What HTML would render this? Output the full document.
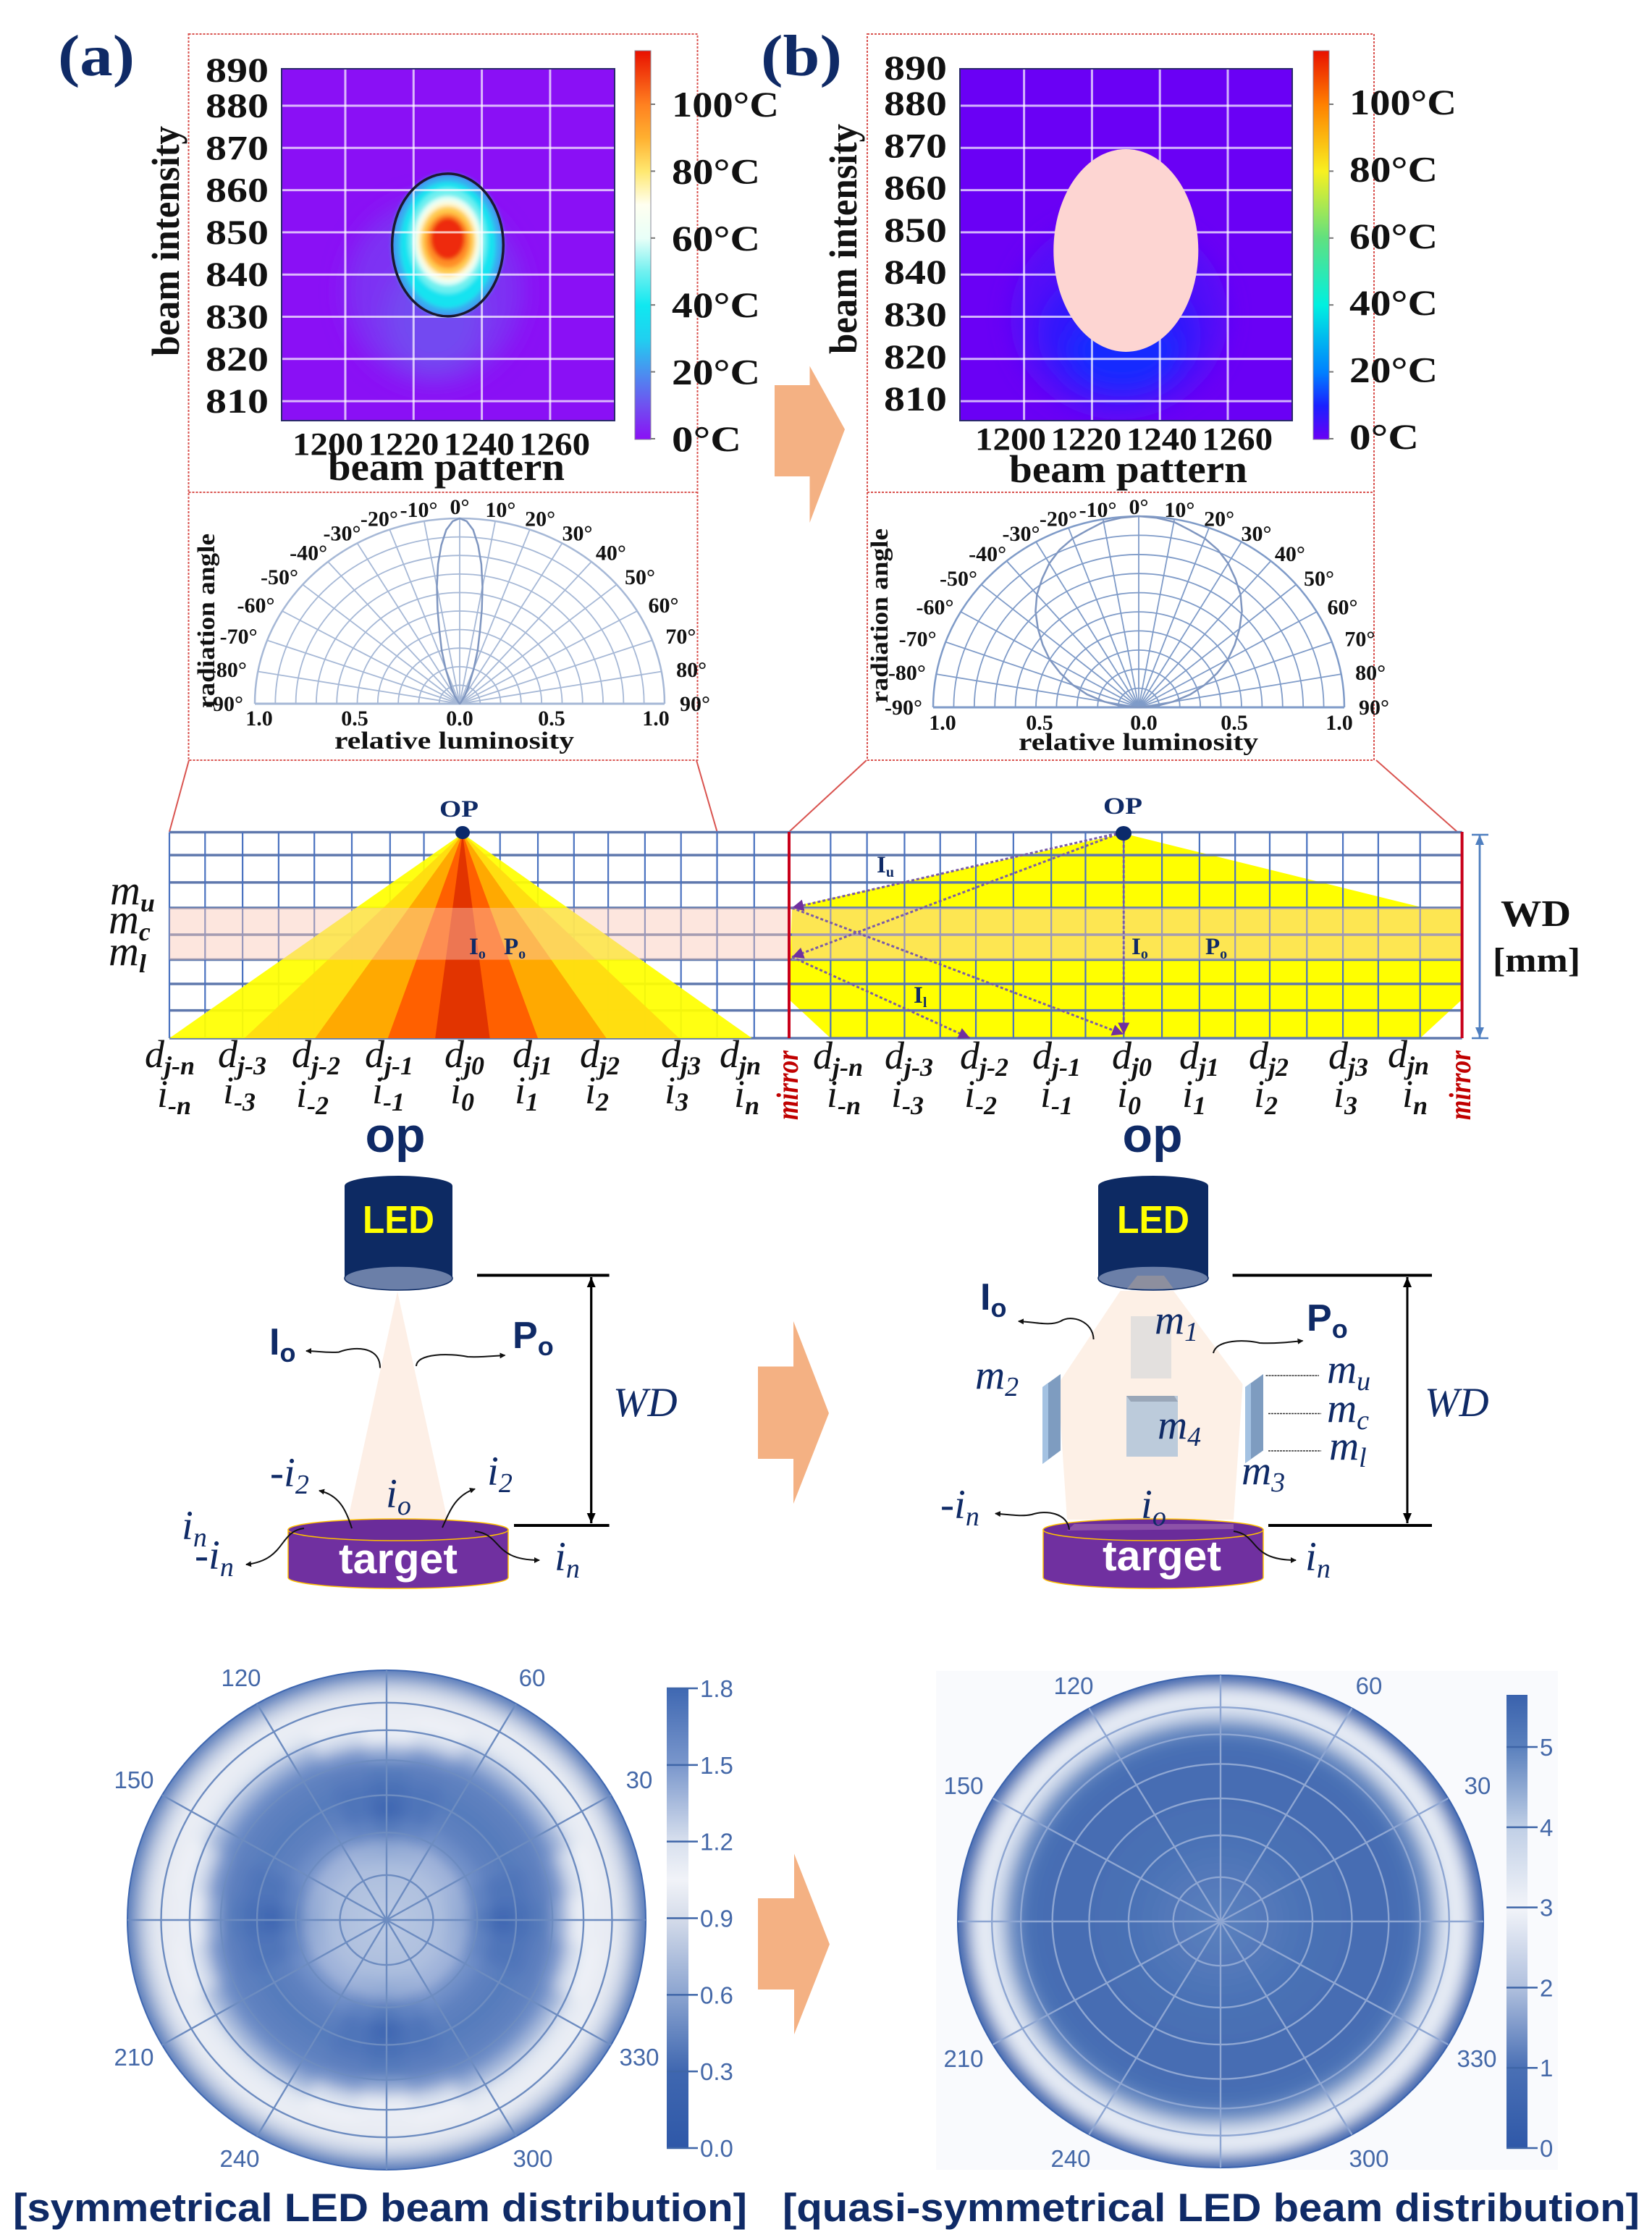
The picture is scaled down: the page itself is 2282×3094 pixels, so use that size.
<!DOCTYPE html>
<html>
<head>
<meta charset="utf-8">
<title>LED beam distribution comparison</title>
<style>
html,body{margin:0;padding:0;background:#fff;}
svg{display:block;}
.sb{font-family:"Liberation Serif",serif;font-weight:bold;fill:#111;}
.sym{font-family:"Liberation Serif",serif;font-style:italic;font-size:54px;fill:#111;}
.sub{font-size:36px;font-weight:bold;}
.nav{font-family:"Liberation Serif",serif;font-style:italic;font-size:57px;fill:#0f2a66;}
.nsub{font-size:38px;}
.sans{font-family:"Liberation Sans",sans-serif;font-weight:bold;}
.ioa{font-family:"Liberation Serif",serif;font-weight:bold;font-size:33px;fill:#0f2a66;}
.iob{font-size:20px;}
.mir{font-family:"Liberation Serif",serif;font-weight:bold;font-style:italic;font-size:42px;fill:#c00000;}
.cur{fill:none;stroke:#111;stroke-width:2;marker-end:url(#arrow-black);}
.pl{font-family:"Liberation Sans",sans-serif;font-size:33px;fill:#4468a8;}
</style>
</head>
<body>
<svg id="fig" xmlns="http://www.w3.org/2000/svg" width="2282" height="3094" viewBox="0 0 2282 3094">
<defs>
<filter id="blur5" x="-10%" y="-10%" width="120%" height="120%"><feGaussianBlur stdDeviation="9"/></filter>
<filter id="blur3" x="-30%" y="-30%" width="160%" height="160%"><feGaussianBlur stdDeviation="3"/></filter>
<filter id="blur14" x="-40%" y="-40%" width="180%" height="180%"><feGaussianBlur stdDeviation="16"/></filter>
<clipPath id="clip-heat-a"><rect x="389" y="95" width="460" height="486"/></clipPath>
<clipPath id="clip-heat-b"><rect x="1326" y="95" width="459" height="486"/></clipPath>
<clipPath id="clip-polar-a"><ellipse cx="534" cy="2652" rx="358" ry="345"/></clipPath>
<clipPath id="clip-polar-b"><ellipse cx="1686" cy="2654" rx="363" ry="340"/></clipPath>
<marker id="arrow-black" markerWidth="9" markerHeight="9" refX="7" refY="4" orient="auto" markerUnits="userSpaceOnUse"><path d="M0 0L8 4L0 8Z" fill="#111"/></marker>
<marker id="arrow-purple" markerWidth="20" markerHeight="20" refX="16" refY="8" orient="auto" markerUnits="userSpaceOnUse"><path d="M0 0L16 8L0 16Z" fill="#7030a0"/></marker>
<marker id="arrow-blue" markerWidth="18" markerHeight="18" refX="14" refY="6" orient="auto" markerUnits="userSpaceOnUse"><path d="M0 0L14 6L0 12Z" fill="#4f7fc0"/></marker>
<marker id="arrow-wd" markerWidth="18" markerHeight="18" refX="14" refY="6" orient="auto" markerUnits="userSpaceOnUse"><path d="M0 0L14 6L0 12Z" fill="#000"/></marker>
</defs>

<rect width="2282" height="3094" fill="#fff"/>

<text class="sb" x="80" y="104" font-size="80" style="fill:#0f2a66" textLength="106" lengthAdjust="spacingAndGlyphs">(a)</text>
<text class="sb" x="1051" y="104" font-size="80" style="fill:#0f2a66" textLength="112" lengthAdjust="spacingAndGlyphs">(b)</text>

<g fill="none" stroke="#d9534f" stroke-width="2">
<rect x="260.5" y="47" width="703" height="1003" stroke-dasharray="3 2"/>
<line x1="260.5" y1="680" x2="963.5" y2="680" stroke-dasharray="3 2"/>
<rect x="1198" y="47" width="700" height="1003" stroke-dasharray="3 2"/>
<line x1="1198" y1="680" x2="1898" y2="680" stroke-dasharray="3 2"/>
<path d="M261 1050L234 1149M962 1050L990.6 1149M1197 1050L1090 1149M1901 1050L2013 1149"/>
</g>

<g id="heat-a" clip-path="url(#clip-heat-a)"></g>
<g id="heat-b" clip-path="url(#clip-heat-b)"></g>
<g id="heat-axes"></g>

<text class="sb" x="453" y="663" font-size="54" textLength="327" lengthAdjust="spacingAndGlyphs">beam pattern</text>
<text class="sb" x="1394" y="666" font-size="54" textLength="329" lengthAdjust="spacingAndGlyphs">beam pattern</text>
<text class="sb" transform="translate(247,492) rotate(-90)" font-size="54" textLength="318" lengthAdjust="spacingAndGlyphs">beam intensity</text>
<text class="sb" transform="translate(1183,489) rotate(-90)" font-size="54" textLength="318" lengthAdjust="spacingAndGlyphs">beam intensity</text>

<g id="angle-charts"></g>
<text class="sb" x="462" y="1034" font-size="34" textLength="331" lengthAdjust="spacingAndGlyphs">relative luminosity</text>
<text class="sb" x="1407" y="1036" font-size="34" textLength="331" lengthAdjust="spacingAndGlyphs">relative luminosity</text>
<text class="sb" transform="translate(296,978) rotate(-90)" font-size="34" textLength="241" lengthAdjust="spacingAndGlyphs">radiation angle</text>
<text class="sb" transform="translate(1226,971) rotate(-90)" font-size="34" textLength="241" lengthAdjust="spacingAndGlyphs">radiation angle</text>

<g id="beam-grid"></g>

<text class="ioa" x="607" y="1128" textLength="54" lengthAdjust="spacingAndGlyphs">OP</text>
<text class="ioa" x="1524" y="1124" textLength="54" lengthAdjust="spacingAndGlyphs">OP</text>
<text class="ioa" x="648" y="1318">I<tspan class="iob" dy="6">o</tspan></text>
<text class="ioa" x="696" y="1318">P<tspan class="iob" dy="6">o</tspan></text>
<text class="ioa" x="1563" y="1318">I<tspan class="iob" dy="6">o</tspan></text>
<text class="ioa" x="1665" y="1318">P<tspan class="iob" dy="6">o</tspan></text>
<text class="ioa" x="1211" y="1205">I<tspan class="iob" dy="6">u</tspan></text>
<text class="ioa" x="1262" y="1385">I<tspan class="iob" dy="6">l</tspan></text>

<g>
<text class="sym" x="152" y="1249" style="font-size:58px">m<tspan class="sub" dy="10">u</tspan></text>
<text class="sym" x="150" y="1289" style="font-size:58px">m<tspan class="sub" dy="10">c</tspan></text>
<text class="sym" x="150" y="1333" style="font-size:58px">m<tspan class="sub" dy="10">l</tspan></text>
</g>

<g>
<text class="sym" x="200" y="1474">d<tspan class="sub" dy="10">j-n</tspan></text>
<text class="sym" x="301" y="1474">d<tspan class="sub" dy="10">j-3</tspan></text>
<text class="sym" x="403" y="1474">d<tspan class="sub" dy="10">j-2</tspan></text>
<text class="sym" x="504" y="1474">d<tspan class="sub" dy="10">j-1</tspan></text>
<text class="sym" x="614" y="1474">d<tspan class="sub" dy="10">j0</tspan></text>
<text class="sym" x="708" y="1474">d<tspan class="sub" dy="10">j1</tspan></text>
<text class="sym" x="801" y="1474">d<tspan class="sub" dy="10">j2</tspan></text>
<text class="sym" x="913" y="1474">d<tspan class="sub" dy="10">j3</tspan></text>
<text class="sym" x="994" y="1474">d<tspan class="sub" dy="10">jn</tspan></text>
<text class="sym" x="217" y="1529">i<tspan class="sub" dy="10">-n</tspan></text>
<text class="sym" x="308" y="1524">i<tspan class="sub" dy="10">-3</tspan></text>
<text class="sym" x="409" y="1529">i<tspan class="sub" dy="10">-2</tspan></text>
<text class="sym" x="514" y="1524">i<tspan class="sub" dy="10">-1</tspan></text>
<text class="sym" x="622" y="1524">i<tspan class="sub" dy="10">0</tspan></text>
<text class="sym" x="711" y="1524">i<tspan class="sub" dy="10">1</tspan></text>
<text class="sym" x="808" y="1524">i<tspan class="sub" dy="10">2</tspan></text>
<text class="sym" x="918" y="1524">i<tspan class="sub" dy="10">3</tspan></text>
<text class="sym" x="1014" y="1529">i<tspan class="sub" dy="10">n</tspan></text>
</g>
<g>
<text class="sym" x="1123" y="1476">d<tspan class="sub" dy="10">j-n</tspan></text>
<text class="sym" x="1222" y="1476">d<tspan class="sub" dy="10">j-3</tspan></text>
<text class="sym" x="1326" y="1476">d<tspan class="sub" dy="10">j-2</tspan></text>
<text class="sym" x="1426" y="1476">d<tspan class="sub" dy="10">j-1</tspan></text>
<text class="sym" x="1536" y="1476">d<tspan class="sub" dy="10">j0</tspan></text>
<text class="sym" x="1629" y="1476">d<tspan class="sub" dy="10">j1</tspan></text>
<text class="sym" x="1725" y="1476">d<tspan class="sub" dy="10">j2</tspan></text>
<text class="sym" x="1835" y="1476">d<tspan class="sub" dy="10">j3</tspan></text>
<text class="sym" x="1917" y="1474">d<tspan class="sub" dy="10">jn</tspan></text>
<text class="sym" x="1142" y="1529">i<tspan class="sub" dy="10">-n</tspan></text>
<text class="sym" x="1231" y="1529">i<tspan class="sub" dy="10">-3</tspan></text>
<text class="sym" x="1332" y="1529">i<tspan class="sub" dy="10">-2</tspan></text>
<text class="sym" x="1437" y="1529">i<tspan class="sub" dy="10">-1</tspan></text>
<text class="sym" x="1543" y="1529">i<tspan class="sub" dy="10">0</tspan></text>
<text class="sym" x="1633" y="1529">i<tspan class="sub" dy="10">1</tspan></text>
<text class="sym" x="1732" y="1529">i<tspan class="sub" dy="10">2</tspan></text>
<text class="sym" x="1842" y="1529">i<tspan class="sub" dy="10">3</tspan></text>
<text class="sym" x="1937" y="1529">i<tspan class="sub" dy="10">n</tspan></text>
</g>
<text class="mir" transform="translate(1102,1547) rotate(-90)" textLength="96" lengthAdjust="spacingAndGlyphs">mirror</text>
<text class="mir" transform="translate(2031,1547) rotate(-90)" textLength="96" lengthAdjust="spacingAndGlyphs">mirror</text>

<text class="sb" x="2073" y="1279" font-size="52" textLength="97" lengthAdjust="spacingAndGlyphs">WD</text>
<text class="sb" x="2062" y="1342" font-size="48" textLength="121" lengthAdjust="spacingAndGlyphs">[mm]</text>
<g stroke="#4f7fc0" stroke-width="2.5" fill="none">
<line x1="2044" y1="1153" x2="2044" y2="1433" marker-end="url(#arrow-blue)"/>
<line x1="2044" y1="1433" x2="2044" y2="1153" marker-end="url(#arrow-blue)"/>
<line x1="2033" y1="1153" x2="2056" y2="1153"/>
<line x1="2033" y1="1434" x2="2056" y2="1434"/>
</g>

<path d="M1070 532H1118.5V505.6L1167 593L1118.5 722V658H1070Z" fill="#f4b183"/>
<path d="M1047 1887.5H1096V1825L1145 1952L1096 2077V2015H1047Z" fill="#f4b183"/>
<path d="M1047 2622H1097V2560.5L1146 2685.5L1097 2810V2748H1047Z" fill="#f4b183"/>

<text class="sans" x="546" y="1591" text-anchor="middle" font-size="68" fill="#0f2a66">op</text>
<text class="sans" x="1592" y="1591" text-anchor="middle" font-size="68" fill="#0f2a66">op</text>

<g>
<polygon points="549,1784 480.6,2099 618,2099" fill="#fdefe6"/>
<path d="M476 1638A74.5 14 0 0 1 625 1638V1765.5A74.5 16.5 0 0 1 476 1765.5Z" fill="#0d2a63"/>
<ellipse cx="550.5" cy="1765.5" rx="74.5" ry="16.5" fill="#6b7fa8" stroke="#0d2a63" stroke-width="1.5"/>
<text class="sans" x="501" y="1703" font-size="54" fill="#ffff00" textLength="99" lengthAdjust="spacingAndGlyphs">LED</text>
<path d="M398 2113V2179A152 15 0 0 0 702 2179V2113Z" fill="#7030a0" stroke="#ffc000" stroke-width="1.5"/>
<ellipse cx="550" cy="2113" rx="152" ry="15" fill="#6a2c9a" stroke="#ffc000" stroke-width="1.5"/>
<text class="sans" x="468" y="2173" font-size="58" fill="#fff" textLength="164" lengthAdjust="spacingAndGlyphs">target</text>
<path d="M659 1761.5H841.6M710 2107H841.6" stroke="#000" stroke-width="4" fill="none"/>
<line x1="816.7" y1="1764" x2="816.7" y2="2104" stroke="#000" stroke-width="3" marker-end="url(#arrow-wd)"/>
<line x1="816.7" y1="2104" x2="816.7" y2="1764" stroke="#000" stroke-width="3" marker-end="url(#arrow-wd)"/>
<text class="nav" x="847" y="1956">WD</text>
<text class="sans" x="372" y="1871" font-size="52" fill="#0f2a66">I<tspan font-size="36" dy="10">o</tspan></text>
<text class="sans" x="708" y="1862" font-size="52" fill="#0f2a66">P<tspan font-size="36" dy="10">o</tspan></text>
<path class="cur" d="M525 1889.5C525 1858 487 1860 468 1867.6C450 1869 437 1866 423 1866"/>
<path class="cur" d="M575 1887C576 1869 621 1869 646 1874C665 1875 680 1873 697.5 1872"/>
<path class="cur" d="M486 2111C478 2085 468 2065 441 2059"/>
<path class="cur" d="M611 2110C622 2085 630 2065 656 2056.6"/>
<path class="cur" d="M420 2111C385 2115 395 2155 340 2161"/>
<path class="cur" d="M656 2115C695 2120 680 2155 745 2155"/>
<text class="nav" x="373" y="2053">-i<tspan class="nsub" dy="10">2</tspan></text>
<text class="nav" x="673" y="2051">i<tspan class="nsub" dy="10">2</tspan></text>
<text class="nav" x="533" y="2082">i<tspan class="nsub" dy="10">o</tspan></text>
<text class="nav" x="251" y="2126">i<tspan class="nsub" dy="10">n</tspan></text>
<text class="nav" x="269" y="2167">-i<tspan class="nsub" dy="10">n</tspan></text>
<text class="nav" x="766" y="2169">i<tspan class="nsub" dy="10">n</tspan></text>
</g>

<g>
<polygon points="1547.6,1783 1621,1783 1716.6,1912 1704,2099 1474,2099 1461.5,1912" fill="#fdf0e6"/>
<path d="M1517 1638A76 14 0 0 1 1669 1638V1765.5A76 16.5 0 0 1 1517 1765.5Z" fill="#0d2a63"/>
<ellipse cx="1593" cy="1765.5" rx="76" ry="16.5" fill="#6b7fa8" stroke="#0d2a63" stroke-width="1.5"/>
<polygon points="1571,1762 1608,1762 1621,1780 1557,1780" fill="#8d8f9e"/>
<text class="sans" x="1543" y="1703" font-size="54" fill="#ffff00" textLength="100" lengthAdjust="spacingAndGlyphs">LED</text>
<path d="M1562 1818H1618V1904H1562Z" fill="#e3e0de"/>
<path d="M1556 1928H1627V2012H1556Z" fill="#bccbdb"/>
<path d="M1556 1928H1622L1627 1936H1562Z" fill="#9aa7b8"/>
<polygon points="1440,1916 1465,1898 1465,2003.5 1440,2022" fill="#7e9cc0"/>
<polygon points="1440,1916 1448,1910 1448,2016 1440,2022" fill="#a4c2e2"/>
<polygon points="1720,1916 1745,1898 1745,2003.5 1720,2021" fill="#7e9cc0"/>
<polygon points="1720,1916 1728,1910 1728,2015 1720,2021" fill="#a4c2e2"/>
<path d="M1748.5 1900H1822M1752 1952.5H1825M1752 2004H1825" stroke="#333" stroke-width="1.5" stroke-dasharray="3 1" fill="none"/>
<path d="M1441 2113V2179A152 15 0 0 0 1745 2179V2113Z" fill="#7030a0" stroke="#ffc000" stroke-width="1.5"/>
<ellipse cx="1593" cy="2113" rx="152" ry="15" fill="#6a2c9a" stroke="#ffc000" stroke-width="1.5"/>
<polygon points="1484,2105 1704,2105 1704,2112 1474,2114" fill="#8d52a8"/>
<text class="sans" x="1523" y="2169" font-size="58" fill="#fff" textLength="164" lengthAdjust="spacingAndGlyphs">target</text>
<path d="M1702.6 1761.5H1978M1752 2107H1978" stroke="#000" stroke-width="4" fill="none"/>
<line x1="1944" y1="1764" x2="1944" y2="2104" stroke="#000" stroke-width="3" marker-end="url(#arrow-wd)"/>
<line x1="1944" y1="2104" x2="1944" y2="1764" stroke="#000" stroke-width="3" marker-end="url(#arrow-wd)"/>
<text class="nav" x="1968" y="1956">WD</text>
<text class="sans" x="1354" y="1809" font-size="52" fill="#0f2a66">I<tspan font-size="36" dy="10">o</tspan></text>
<text class="sans" x="1805" y="1838" font-size="52" fill="#0f2a66">P<tspan font-size="36" dy="10">o</tspan></text>
<path class="cur" d="M1510.6 1850C1510 1825 1480 1815 1465 1825C1450 1832 1430 1826 1407 1825"/>
<path class="cur" d="M1676 1869C1680 1850 1720 1850 1740 1855C1760 1856 1780 1854 1799.5 1852"/>
<path class="cur" d="M1477 2113C1475 2090 1445 2085 1425 2092C1410 2095 1395 2092 1375 2090.6"/>
<path class="cur" d="M1704 2115C1740 2120 1725 2155 1790 2155"/>
<text class="nav" x="1595" y="1842">m<tspan class="nsub" dy="10">1</tspan></text>
<text class="nav" x="1347" y="1918">m<tspan class="nsub" dy="10">2</tspan></text>
<text class="nav" x="1715" y="2050">m<tspan class="nsub" dy="10">3</tspan></text>
<text class="nav" x="1599" y="1987">m<tspan class="nsub" dy="10">4</tspan></text>
<text class="nav" x="1833" y="1910">m<tspan class="nsub" dy="10">u</tspan></text>
<text class="nav" x="1833" y="1964">m<tspan class="nsub" dy="10">c</tspan></text>
<text class="nav" x="1836" y="2016">m<tspan class="nsub" dy="10">l</tspan></text>
<text class="nav" x="1299" y="2097">-i<tspan class="nsub" dy="10">n</tspan></text>
<text class="nav" x="1576" y="2097">i<tspan class="nsub" dy="10">o</tspan></text>
<text class="nav" x="1803" y="2169">i<tspan class="nsub" dy="10">n</tspan></text>
</g>

<rect x="1293" y="2308" width="859" height="689" fill="#f9fafd"/>
<g id="polar-a"></g>
<g id="polar-b"></g>

<text class="pl" x="333" y="2329" text-anchor="middle">120</text>
<text class="pl" x="735" y="2329" text-anchor="middle">60</text>
<text class="pl" x="185" y="2470" text-anchor="middle">150</text>
<text class="pl" x="883" y="2470" text-anchor="middle">30</text>
<text class="pl" x="185" y="2853" text-anchor="middle">210</text>
<text class="pl" x="883" y="2853" text-anchor="middle">330</text>
<text class="pl" x="331" y="2993" text-anchor="middle">240</text>
<text class="pl" x="736" y="2993" text-anchor="middle">300</text>

<text class="pl" x="1483" y="2340" text-anchor="middle">120</text>
<text class="pl" x="1891" y="2340" text-anchor="middle">60</text>
<text class="pl" x="1331" y="2478" text-anchor="middle">150</text>
<text class="pl" x="2041" y="2478" text-anchor="middle">30</text>
<text class="pl" x="1331" y="2855" text-anchor="middle">210</text>
<text class="pl" x="2040" y="2855" text-anchor="middle">330</text>
<text class="pl" x="1479" y="2993" text-anchor="middle">240</text>
<text class="pl" x="1891" y="2993" text-anchor="middle">300</text>

<text class="sans" x="18" y="3068" font-size="55" fill="#0f2a66" textLength="1014" lengthAdjust="spacingAndGlyphs">[symmetrical LED beam distribution]</text>
<text class="sans" x="1081" y="3068" font-size="55" fill="#0f2a66" textLength="1184" lengthAdjust="spacingAndGlyphs">[quasi-symmetrical LED beam distribution]</text>
</svg>

<script>
/* ---- heatmap data (temperature isotherms, in axis units) ---- */
const yTicks = [890, 880, 870, 860, 850, 840, 830, 820, 810];
const xTicks = [1200, 1220, 1240, 1260];
const tempTicks = [100, 80, 60, 40, 20, 0];

const heatATemps = [5, 9, 24, 38, 50, 60, 72, 85, 97, 112];
const heatACenterX = [1226, 1226, 1230, 1230, 1230, 1230, 1230, 1230, 1230, 1230];
const heatACenterY = [836, 830, 847, 847, 848, 848, 848, 848, 848, 848.5];
const heatAHalfW = [26, 14, 16.3, 14, 11.5, 10, 9, 8, 6.5, 5];
const heatAHalfH = [22, 13, 16.9, 15, 12.5, 10.5, 9.3, 8.2, 6.5, 5];

const heatBTemps = [3, 7, 11];
const heatBCenterX = [1228, 1228, 1229];
const heatBCenterY = [830, 826, 822];
const heatBHalfW = [32, 24, 16];
const heatBHalfH = [24, 16, 9];

const tempScaleA = [0, 10, 20, 30, 40, 50, 60, 70, 80, 90, 100, 116];
const tempColorsA = ['#8a10f5', '#7050f0', '#4a90f0', '#20d0f0', '#10e8f0', '#70f0f0', '#e8fff8', '#fffff0', '#ffe870', '#ffb030', '#ff8020', '#e81000'];
const tempScaleB = [0, 10, 20, 40, 60, 80, 100, 116];
const tempColorsB = ['#6a00f5', '#1a20ff', '#0080ff', '#00f0e0', '#60e080', '#f8f020', '#ff8000', '#e81000'];

/* ---- radiation-angle chart data ---- */
const angleTicks = [-90, -80, -70, -60, -50, -40, -30, -20, -10, 0, 10, 20, 30, 40, 50, 60, 70, 80, 90];
const lumTicks = [0.1, 0.2, 0.3, 0.4, 0.5, 0.6, 0.7, 0.8, 0.9, 1.0];
const lumLabels = [1.0, 0.5, 0.0, 0.5, 1.0];
const lobeAnglesA = [-90, -40, -30, -25, -20, -17, -14, -12, -10, -8, -6, -4, -2, 0, 2, 4, 6, 8, 10, 12, 14, 17, 20, 25, 30, 40, 90];
const lobeValuesA = [0, 0.01, 0.05, 0.1, 0.2, 0.3, 0.41, 0.52, 0.64, 0.76, 0.86, 0.94, 0.985, 1, 0.985, 0.94, 0.86, 0.76, 0.64, 0.52, 0.41, 0.3, 0.2, 0.1, 0.05, 0.01, 0];
const lobeAnglesB = [-90, -85, -80, -75, -70, -65, -60, -55, -50, -45, -40, -35, -30, -25, -20, -15, -10, -5, 0, 5, 10, 15, 20, 25, 30, 35, 40, 45, 50, 55, 60, 65, 70, 75, 80, 85, 90];
const lobeValuesB = [0, 0.09, 0.17, 0.26, 0.34, 0.42, 0.5, 0.57, 0.64, 0.71, 0.77, 0.82, 0.87, 0.91, 0.94, 0.96, 0.985, 0.995, 1, 0.995, 0.985, 0.96, 0.94, 0.91, 0.87, 0.82, 0.77, 0.71, 0.64, 0.57, 0.5, 0.42, 0.34, 0.26, 0.17, 0.09, 0];

/* ---- beam grid data (millimetres from left mirror edge, depth in WD units) ---- */
const gridColsA = [0, 0.98, 2.01, 3, 3.98, 5.01, 6.06, 6.99, 9.08, 10.12, 11.11, 12.05, 13.06, 14.05, 15.04, 16.06, 17.02];
const gridColsB = [1.14, 2.14, 3.17, 4.15, 5.13, 6.16, 7.2, 8.14, 9.19, 10.24, 11.27, 12.25, 13.2, 14.22, 15.21, 16.18, 17.33];
const gridRows = [0, 0.89, 1.95, 2.94, 3.98, 4.95, 5.89, 6.92, 8];
const beamApexMm = 8.05;
const beamLeftMm = [0, 2.06, 4, 6, 7.3];
const beamRightMm = [16, 14, 12, 10.12, 8.8];
const beamColors = ['#ffff00', '#ffdc10', '#ffa500', '#ff5a00', '#e03000'];
const beamBPolyMm = [9.19, 0.08, 0, 1.14, 17.33, 18.48, 18.48, 17.33];
const beamBPolyDepth = [0.05, 2.9, 6.5, 8, 8, 6.5, 2.9, 2.9];
const rayFromMm = [9, 9, 0.08, 0.08, 9.19];
const rayFromDepth = [0.05, 0.08, 2.94, 4.85, 0.1];
const rayToMm = [0.08, 0.08, 9.19, 4.97, 9.19];
const rayToDepth = [2.94, 4.85, 7.85, 8, 7.85];

/* ---- polar distribution data ---- */
const ringEdges = [0, 0.08, 0.16, 0.24, 0.32, 0.4, 0.48, 0.56, 0.64, 0.7, 0.76, 0.82, 0.88, 0.92, 0.96, 1.0];
const polarAAxial = [1.3, 1.32, 1.34, 1.42, 1.68, 1.8, 1.75, 1.68, 1.42, 1.1, 1.02, 1.0, 0.97, 0.8, 0.5];
const polarAOblique = [1.3, 1.32, 1.34, 1.4, 1.62, 1.72, 1.72, 1.66, 1.5, 1.22, 1.06, 1.0, 0.97, 0.8, 0.5];
const polarADiagonal = [1.3, 1.32, 1.33, 1.38, 1.55, 1.65, 1.68, 1.65, 1.56, 1.36, 1.14, 1.02, 0.97, 0.8, 0.5];
const polarAProfiles = [polarAAxial, polarAOblique, polarADiagonal, polarADiagonal, polarADiagonal, polarAOblique];
const polarBRing = [5.0, 5.1, 5.2, 5.3, 5.4, 5.45, 5.5, 5.5, 5.5, 5.4, 4.8, 3.7, 3.0, 3.8, 5.5];
const polarBProfiles = [polarBRing];
const polarGridRings = [0.18, 0.35, 0.5, 0.64, 0.76, 0.87, 1.0];
const polarSpokes = [0, 30, 60, 90, 120, 150, 180, 210, 240, 270, 300, 330];
const barTicksA = [1.8, 1.5, 1.2, 0.9, 0.6, 0.3, 0.0];
const barTicksB = [5, 4, 3, 2, 1, 0];
const polarScaleA = [0, 0.3, 0.6, 0.9, 1.05, 1.2, 1.5, 1.8];
const polarColorsA = ['#2f58a8', '#3f67b0', '#8ba4d0', '#d5dcea', '#f1f3f8', '#d8e0ee', '#7a97cc', '#3f68b2'];
const polarScaleB = [0, 1, 2, 3, 4, 5, 5.8];
const polarColorsB = ['#2f58a8', '#4a70b5', '#b0c0de', '#f2f4f9', '#c0cfe6', '#5a80bd', '#3a62ad'];

const NS = 'http://www.w3.org/2000/svg';
function make(parent, tag, attrs, txt) {
  const el = document.createElementNS(NS, tag);
  for (const k in attrs) el.setAttribute(k, attrs[k]);
  if (txt !== undefined) el.textContent = txt;
  parent.appendChild(el);
  return el;
}
function hexRgb(h) { return [parseInt(h.slice(1, 3), 16), parseInt(h.slice(3, 5), 16), parseInt(h.slice(5, 7), 16)]; }
function colorAt(v, scale, colors) {
  if (v <= scale[0]) return colors[0];
  for (let i = 1; i < scale.length; i++) {
    if (v <= scale[i]) {
      const t = (v - scale[i - 1]) / (scale[i] - scale[i - 1]);
      const a = hexRgb(colors[i - 1]), b = hexRgb(colors[i]);
      return 'rgb(' + [0, 1, 2].map(c => Math.round(a[c] + (b[c] - a[c]) * t)).join(',') + ')';
    }
  }
  return colors[colors.length - 1];
}

/* ---------- heatmaps ---------- */
function drawHeat(cfg) {
  const fx = v => cfg.x1200 + (v - 1200) * cfg.xPer;
  const fy = v => 146 + (880 - v) * 5.83;
  const bg = make(cfg.parent, 'rect', { x: cfg.left, y: 95, width: cfg.right - cfg.left, height: 486, fill: colorAt(0, cfg.scale, cfg.colors) });
  
  
  const glow = make(cfg.parent, 'g', { filter: 'url(#blur14)' });
  
  
  const fill = make(cfg.parent, 'g', { filter: 'url(#blur3)' });
  
  
  cfg.temps.forEach((t, i) => {
    const e = make(t < 20 ? glow : fill, 'ellipse', { cx: fx(cfg.cx[i]), cy: fy(cfg.cy[i]), rx: cfg.hw[i] * cfg.xPer, ry: cfg.hh[i] * 5.83, fill: colorAt(t, cfg.scale, cfg.colors) });
    
    
  });
  xTicks.forEach(v => {
    const l = make(cfg.axes, 'line', { x1: fx(v), x2: fx(v), y1: 95, y2: 581, stroke: '#fff', 'stroke-opacity': 0.7, 'stroke-width': 3 });
    
    
    const lab = make(cfg.axes, 'text', { x: cfg.labelX0 + (v - 1200) * 5.22, y: cfg.xLabelY, 'text-anchor': 'middle', class: 'sb', 'font-size': 44, textLength: 98, lengthAdjust: 'spacingAndGlyphs' }, String(v));
    
    
  });
  yTicks.forEach(v => {
    if (fy(v) > 95) {
      const l = make(cfg.axes, 'line', { x1: cfg.left, x2: cfg.right, y1: fy(v), y2: fy(v), stroke: '#fff', 'stroke-opacity': 0.7, 'stroke-width': 3 });
      
      
    }
    const lab = make(cfg.axes, 'text', { x: cfg.left - 18, y: Math.max(fy(v), 97) + cfg.yLabelShift, 'text-anchor': 'end', class: 'sb', 'font-size': 48, textLength: 87, lengthAdjust: 'spacingAndGlyphs' }, String(v));
    
    
  });
  const frame = make(cfg.axes, 'rect', { x: cfg.left, y: 95, width: cfg.right - cfg.left, height: 486, fill: 'none', stroke: '#2a2a6a', 'stroke-width': 2 });
  
  
  const tempY = t => 606 - t * 4.62;
  const gradId = 'grad-' + cfg.id;
  const grad = make(document.querySelector('#fig defs'), 'linearGradient', { id: gradId, x1: 0, y1: 1, x2: 0, y2: 0 });
  cfg.scale.forEach((t, i) => { make(grad, 'stop', { offset: t / 116, 'stop-color': cfg.colors[i] }); });
  const bar = make(cfg.axes, 'rect', { x: cfg.barX, y: 70, width: cfg.barW, height: 537, fill: 'url(#' + gradId + ')', stroke: '#889', 'stroke-width': 1 });
  
  
  tempTicks.forEach(t => {
    const k = make(cfg.axes, 'line', { x1: cfg.barX + cfg.barW, x2: cfg.barX + cfg.barW + 6, y1: tempY(t), y2: tempY(t), stroke: '#777', 'stroke-width': 2 });
    
    
    const s = t + '°C';
    const lab = make(cfg.axes, 'text', { x: cfg.tempLabelX, y: tempY(t) + cfg.tempShift, class: 'sb', 'font-size': 50, textLength: String(t).length * 26 + 70, lengthAdjust: 'spacingAndGlyphs' }, s);
    
    
  });
  return { fx, fy };
}
const axesG = document.getElementById('heat-axes');
const scA = drawHeat({ id: 'a', parent: document.getElementById('heat-a'), axes: axesG, x1200: 477, xPer: 4.715, left: 389, right: 849, temps: heatATemps, cx: heatACenterX, cy: heatACenterY, hw: heatAHalfW, hh: heatAHalfH, scale: tempScaleA, colors: tempColorsA, labelX0: 453, xLabelY: 628, yLabelShift: 16, barX: 877, barW: 22, tempLabelX: 928, tempShift: 17 });
const scB = drawHeat({ id: 'b', parent: document.getElementById('heat-b'), axes: axesG, x1200: 1414.6, xPer: 4.69, left: 1326, right: 1785, temps: heatBTemps, cx: heatBCenterX, cy: heatBCenterY, hw: heatBHalfW, hh: heatBHalfH, scale: tempScaleB, colors: tempColorsB, labelX0: 1396, xLabelY: 621, yLabelShift: 13, barX: 1814, barW: 22, tempLabelX: 1864, tempShift: 14 });
const ringA = make(axesG, 'ellipse', { cx: scA.fx(1230), cy: scA.fy(847), rx: 16.3 * 4.715, ry: 16.9 * 5.83, fill: 'none', stroke: '#1a1a30', 'stroke-width': 3.5 });


const ringB = make(axesG, 'ellipse', { cx: scB.fx(1230), cy: scB.fy(845.7), rx: 100, ry: 140, fill: '#fdd5d2' });



/* ---------- radiation-angle charts ---------- */
function drawAngle(cfg) {
  const g = document.getElementById('angle-charts');
  const px = (l, a) => cfg.cx + cfg.rx * l * Math.sin(a * Math.PI / 180);
  const py = (l, a) => cfg.cy - cfg.ry * l * Math.cos(a * Math.PI / 180);
  lumTicks.forEach(l => {
    const arc = make(g, 'path', { d: 'M' + px(l, -90) + ' ' + py(l, -90) + 'A' + cfg.rx * l + ' ' + cfg.ry * l + ' 0 0 1 ' + px(l, 90) + ' ' + py(l, 90), fill: 'none', stroke: cfg.grid, 'stroke-width': l === 1 ? 2.5 : 1.8 });
    
    
  });
  angleTicks.forEach(a => {
    const s = make(g, 'line', { x1: cfg.cx, y1: cfg.cy, x2: px(1, a), y2: py(1, a), stroke: cfg.grid, 'stroke-width': 1.8 });
    
    
    const lx = cfg.cx + cfg.lrx * Math.sin(a * Math.PI / 180);
    const ly = cfg.cy - cfg.lry * Math.cos(a * Math.PI / 180);
    const t = make(g, 'text', { x: lx, y: ly + 10, 'text-anchor': 'middle', class: 'sb', 'font-size': 30 }, a + '°');
    
    
  });
  const base = make(g, 'line', { x1: cfg.cx - cfg.rx, x2: cfg.cx + cfg.rx, y1: cfg.cy, y2: cfg.cy, stroke: cfg.grid, 'stroke-width': 3 });
  
  
  const d = cfg.angles.map((a, i) => (i ? 'L' : 'M') + px(cfg.values[i], a).toFixed(1) + ' ' + py(cfg.values[i], a).toFixed(1)).join('') + 'Z';
  const lobe = make(g, 'path', { d: d, fill: 'none', stroke: '#7f96c0', 'stroke-width': 2.5, 'stroke-linejoin': 'round' });
  
  
  lumLabels.forEach((v, i) => {
    const t = make(g, 'text', { x: cfg.cx + cfg.lumX[i], y: cfg.lumY, 'text-anchor': 'middle', class: 'sb', 'font-size': 30 }, v.toFixed(1));
    
    
  });
}
drawAngle({ cx: 635, cy: 972, rx: 283, ry: 256, lrx: 325, lry: 272, grid: '#a6b8d6', angles: lobeAnglesA, values: lobeValuesA, lumX: [-277, -145, 0, 127, 271], lumY: 1002 });
drawAngle({ cx: 1573, cy: 977, rx: 284, ry: 264, lrx: 325, lry: 277, grid: '#7f9bc8', angles: lobeAnglesB, values: lobeValuesB, lumX: [-271, -137, 7, 132, 277], lumY: 1008 });

/* ---------- beam grid ---------- */
const bg = document.getElementById('beam-grid');
const gx = (m, x0) => x0 + m * 50.3;
const gy = d => 1149.5 + d * 35.56;
function gridLines(cols, x0, xEnd) {
  gridRows.forEach(r => {
    const l = make(bg, 'line', { x1: x0, x2: xEnd, y1: gy(r), y2: gy(r), stroke: '#5f78ad', 'stroke-width': 3.5 });
    
    
  });
  cols.forEach(c => {
    const l = make(bg, 'line', { x1: gx(c, x0), x2: gx(c, x0), y1: gy(0), y2: gy(8), stroke: '#4a72c0', 'stroke-width': 2.2 });
    
    
  });
}
gridLines(gridColsA, 234, 1090);
beamColors.forEach((c, i) => {
  const p = make(bg, 'polygon', { points: gx(beamApexMm, 234) + ',' + gy(0.05) + ' ' + gx(beamLeftMm[i], 234) + ',' + gy(8) + ' ' + gx(beamRightMm[i], 234) + ',' + gy(8), fill: c, 'fill-opacity': 0.93 });
  
  
});
const polyB = make(bg, 'polygon', { points: beamBPolyMm.map((m, i) => gx(m, 1090) + ',' + gy(beamBPolyDepth[i])).join(' '), fill: '#ffff00' });


gridLines(gridColsB, 1090, 2019.6);
const bandL = make(bg, 'rect', { x: 234, y: 1254, width: 856, height: 71.6, fill: '#fac8b5', 'fill-opacity': 0.45 });


const bandR = make(bg, 'rect', { x: 1094, y: 1254, width: 925, height: 71.6, fill: '#fac8b5', 'fill-opacity': 0.45 });


rayFromMm.forEach((m, i) => {
  const r1 = make(bg, 'line', { x1: gx(m, 1090), y1: gy(rayFromDepth[i]), x2: gx(rayToMm[i], 1090), y2: gy(rayToDepth[i]), stroke: '#7a5aa8', 'stroke-width': 3, 'stroke-dasharray': '4 3', 'marker-end': 'url(#arrow-purple)' });
  
  
});
[[1090, 'mirror-line-left'], [2019.6, 'mirror-line-right']].forEach(it => {
  const l = make(bg, 'line', { x1: it[0], x2: it[0], y1: 1149, y2: 1434, stroke: '#c8001a', 'stroke-width': 4 });
  
  
});
const dotA = make(bg, 'ellipse', { cx: 639, cy: 1150, rx: 10, ry: 9, fill: '#0b2a6b' });


const dotB = make(bg, 'ellipse', { cx: 1552, cy: 1151, rx: 11, ry: 10, fill: '#0b2a6b' });



/* ---------- polar distributions ---------- */
function drawPolar(cfg) {
  const root = document.getElementById(cfg.id);
  const pt = (r, a) => {
    const t = a * Math.PI / 180;
    return (cfg.cx + cfg.rx * r * Math.cos(t)).toFixed(1) + ',' + (cfg.cy - cfg.ry * r * Math.sin(t)).toFixed(1);
  };
  const clip = make(root, 'g', { 'clip-path': 'url(#clip-' + cfg.id + ')' });
  
  
  const base = make(clip, 'ellipse', { cx: cfg.cx, cy: cfg.cy, rx: cfg.rx, ry: cfg.ry, fill: cfg.rim });
  
  
  const field = make(clip, 'g', { filter: 'url(#blur5)' });
  
  
  for (let j = 0; j < 24; j++) {
    const prof = cfg.profiles[j % cfg.profiles.length];
    const a0 = j * 15 - 8, a1 = j * 15 + 8;
    for (let i = 0; i < prof.length; i++) {
      const rIn = ringEdges[i], rOut = ringEdges[i + 1] + 0.004;
      const pts = [];
      for (let k = 0; k <= 4; k++) pts.push(pt(rOut, a0 + (a1 - a0) * k / 4));
      for (let k = 4; k >= 0; k--) pts.push(pt(rIn, a0 + (a1 - a0) * k / 4));
      const c = make(field, 'polygon', { points: pts.join(' '), fill: colorAt(prof[i], cfg.scale, cfg.colors) });
      
      
    }
  }
  polarGridRings.forEach(r => {
    const e = make(root, 'ellipse', { cx: cfg.cx, cy: cfg.cy, rx: cfg.rx * r, ry: cfg.ry * r, fill: 'none', stroke: r === 1 ? cfg.rim : cfg.grid, 'stroke-width': r === 1 ? 2 : 2.4 });
    
    
  });
  polarSpokes.forEach(a => {
    const p = pt(1, a).split(',');
    const s = make(root, 'line', { x1: cfg.cx, y1: cfg.cy, x2: p[0], y2: p[1], stroke: cfg.grid, 'stroke-width': 2.4 });
    
    
  });
  const max = cfg.barMax;
  const barY = v => cfg.barBottom - v / max * (cfg.barBottom - cfg.barTop);
  const gid = 'polar-grad-' + cfg.id;
  const grad = make(document.querySelector('#fig defs'), 'linearGradient', { id: gid, x1: 0, y1: 1, x2: 0, y2: 0 });
  cfg.scale.forEach((v, i) => { make(grad, 'stop', { offset: Math.min(1, v / max), 'stop-color': cfg.colors[i] }); });
  const bar = make(root, 'rect', { x: cfg.barX, y: cfg.barTop, width: cfg.barW, height: cfg.barBottom - cfg.barTop, fill: 'url(#' + gid + ')' });
  
  
  cfg.ticks.forEach(v => {
    const y = barY(v);
    const k = make(root, 'line', { x1: cfg.barX, x2: cfg.tickEnd, y1: y, y2: y, stroke: '#3f66a8', 'stroke-width': 2.5 });
    
    
    const t = make(root, 'text', { x: cfg.tickEnd + 3, y: y + 12, class: 'pl' }, cfg.fmt(v));
    
    
  });
}
drawPolar({ id: 'polar-a', cx: 534, cy: 2652, rx: 358, ry: 345, rim: '#3f67b0', grid: '#6d8cc0', profiles: polarAProfiles, scale: polarScaleA, colors: polarColorsA, barMax: 1.8, barTop: 2332, barBottom: 2967, barX: 921, barW: 30, tickEnd: 964, ticks: barTicksA, fmt: v => v.toFixed(1) });
drawPolar({ id: 'polar-b', cx: 1686, cy: 2654, rx: 363, ry: 340, rim: '#3a62ad', grid: '#8ea6d2', profiles: polarBProfiles, scale: polarScaleB, colors: polarColorsB, barMax: 5.65, barTop: 2341, barBottom: 2967, barX: 2081, barW: 29, tickEnd: 2124, ticks: barTicksB, fmt: v => String(v) });
</script>
</body>
</html>
